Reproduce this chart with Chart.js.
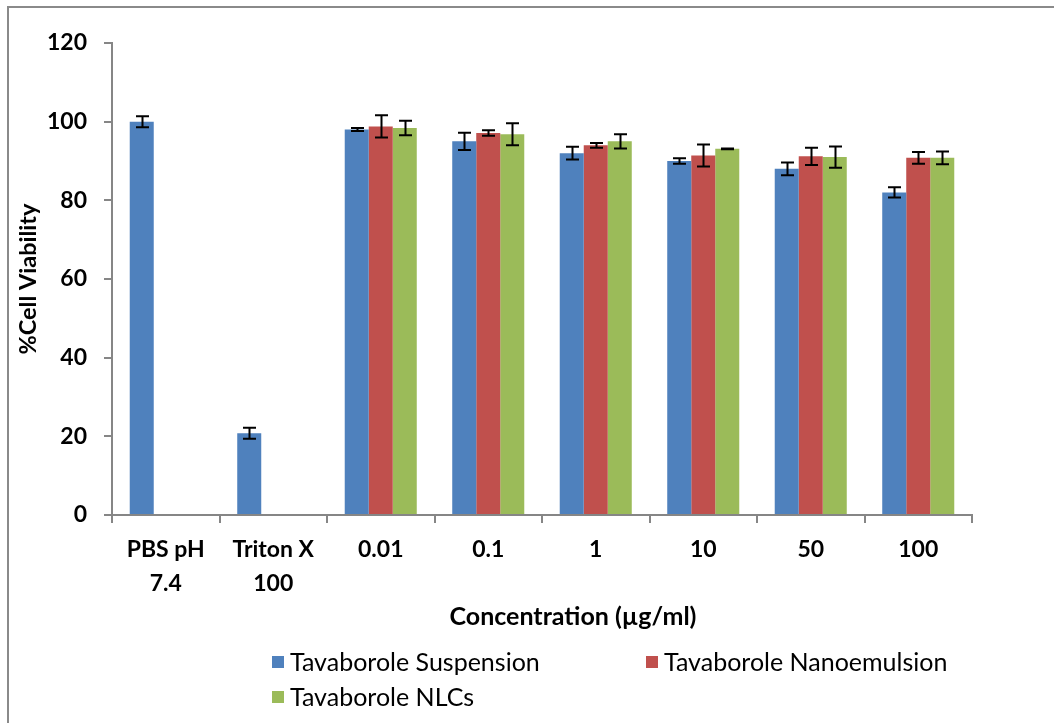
<!DOCTYPE html>
<html>
<head>
<meta charset="utf-8">
<script src="https://cdn.jsdelivr.net/npm/chart.js@4.4.1/dist/chart.umd.min.js"></script>
<style>
  html, body { margin: 0; padding: 0; background: #fff; }
  #wrap { width: 1054px; height: 723px; position: relative; }
</style>
</head>
<body>
<div id="wrap"><canvas id="c" width="1054" height="723"></canvas></div>
<script>
// Concentrations tested (two controls, then drug concentrations)
const categories = [["PBS pH", "7.4"], ["Triton X", "100"], "0.01", "0.1", "1", "10", "50", "100"];

// % cell viability, mean and SD for each formulation
const suspension      = [100, 20.8, 98.0, 95.0, 92.0, 90.0, 88.0, 82.0];
const suspensionErr   = [1.4, 1.4, 0.4, 2.2, 1.6, 0.7, 1.6, 1.3];
const nanoemulsion    = [null, null, 98.8, 97.1, 94.0, 91.4, 91.2, 90.8];
const nanoemulsionErr = [null, null, 2.8, 0.7, 0.6, 2.8, 2.2, 1.5];
const nlcs            = [null, null, 98.4, 96.8, 95.0, 93.1, 91.0, 90.8];
const nlcsErr         = [null, null, 1.85, 2.8, 1.8, 0.1, 2.7, 1.6];

const yTicks = [0, 20, 40, 60, 80, 100, 120];
const seriesNames = ["Tavaborole Suspension", "Tavaborole Nanoemulsion", "Tavaborole NLCs"];
const seriesColors = ["#4F81BD", "#C0504D", "#9BBB59"];

const FONT = "Lato, 'Open Sans', sans-serif";
const AXIS_GREY = "#868686";

// SD whiskers with caps, placed from the bar elements and the y scale
const errorBars = {
  id: "errorBars",
  afterDatasetsDraw(chart) {
    const ctx = chart.ctx;
    const y = chart.scales.y;
    ctx.save();
    ctx.strokeStyle = "#000";
    ctx.lineWidth = 2;
    chart.data.datasets.forEach((ds, i) => {
      const meta = chart.getDatasetMeta(i);
      meta.data.forEach((bar, j) => {
        const v = ds.data[j], e = ds.errors[j];
        if (v == null || e == null) return;
        const x = Math.round(bar.x) + 0.5;
        const top = y.getPixelForValue(v + e);
        const bot = y.getPixelForValue(v - e);
        const half = 6.5;
        ctx.beginPath();
        ctx.moveTo(x, top); ctx.lineTo(x, bot);
        ctx.moveTo(x - half, top); ctx.lineTo(x + half, top);
        ctx.moveTo(x - half, bot); ctx.lineTo(x + half, bot);
        ctx.stroke();
      });
    });
    ctx.restore();
  }
};

// Outer frame, x-axis caption and the two-column legend
const decorations = {
  id: "decorations",
  afterDraw(chart) {
    const ctx = chart.ctx;
    ctx.save();
    ctx.strokeStyle = "#8a8a8a";
    ctx.lineWidth = 2;
    ctx.strokeRect(8, 7, 2000, 2000);

    ctx.fillStyle = "#000";
    ctx.textAlign = "center";
    ctx.textBaseline = "middle";
    ctx.font = "bold 25px " + FONT;
    ctx.fillText("Concentration (µg/ml)", 573, 617);

    // marker left edge, text left edge, row centre
    const slots = [[272, 290, 662], [646, 664, 662], [272, 290, 697]];
    ctx.textAlign = "left";
    ctx.font = "25px " + FONT;
    chart.data.datasets.forEach((ds, i) => {
      const [bx, tx, cy] = slots[i];
      ctx.fillStyle = ds.backgroundColor;
      ctx.fillRect(bx, cy - 6, 12, 12);
      ctx.fillStyle = "#000";
      ctx.fillText(ds.label, tx, cy + 1);
    });
    ctx.restore();
  }
};

function build() {
  new Chart(document.getElementById("c"), {
    type: "bar",
    data: {
      labels: categories,
      datasets: [
        { label: seriesNames[0], data: suspension,   errors: suspensionErr,   backgroundColor: seriesColors[0] },
        { label: seriesNames[1], data: nanoemulsion, errors: nanoemulsionErr, backgroundColor: seriesColors[1] },
        { label: seriesNames[2], data: nlcs,         errors: nlcsErr,         backgroundColor: seriesColors[2] }
      ]
    },
    options: {
      responsive: false,
      animation: false,
      devicePixelRatio: 1,
      layout: { padding: { left: 0, right: 82, top: 43, bottom: 83 } },
      datasets: { bar: { barPercentage: 1.0, categoryPercentage: 0.67, borderWidth: 0 } },
      plugins: { legend: { display: false }, tooltip: { enabled: false } },
      scales: {
        x: {
          afterFit(s) { s.height = 125; },
          grid: { offset: true, drawOnChartArea: false, tickLength: 8, color: AXIS_GREY, lineWidth: 2 },
          border: { color: AXIS_GREY, width: 2 },
          ticks: {
            color: "#000", autoSkip: false, maxRotation: 0, padding: 9,
            font: { family: FONT, size: 23, weight: "bold", lineHeight: 1.5 }
          }
        },
        y: {
          min: 0, max: 120,
          afterFit(s) { s.width = 112; },
          afterBuildTicks(s) { s.ticks = yTicks.map(v => ({ value: v })); },
          grid: { drawOnChartArea: false, tickLength: 8, color: AXIS_GREY, lineWidth: 2 },
          border: { color: AXIS_GREY, width: 2 },
          ticks: { color: "#000", padding: 17, font: { family: FONT, size: 23, weight: "bold" } },
          title: {
            display: true, text: "%Cell Viability", color: "#000",
            padding: { top: 14, bottom: 0 },
            font: { family: FONT, size: 23.5, weight: "bold" }
          }
        }
      }
    },
    plugins: [errorBars, decorations]
  });
}

Promise.all([
  document.fonts.load("bold 23px Lato"),
  document.fonts.load("25px Lato")
]).then(build, build);
</script>
</body>
</html>
